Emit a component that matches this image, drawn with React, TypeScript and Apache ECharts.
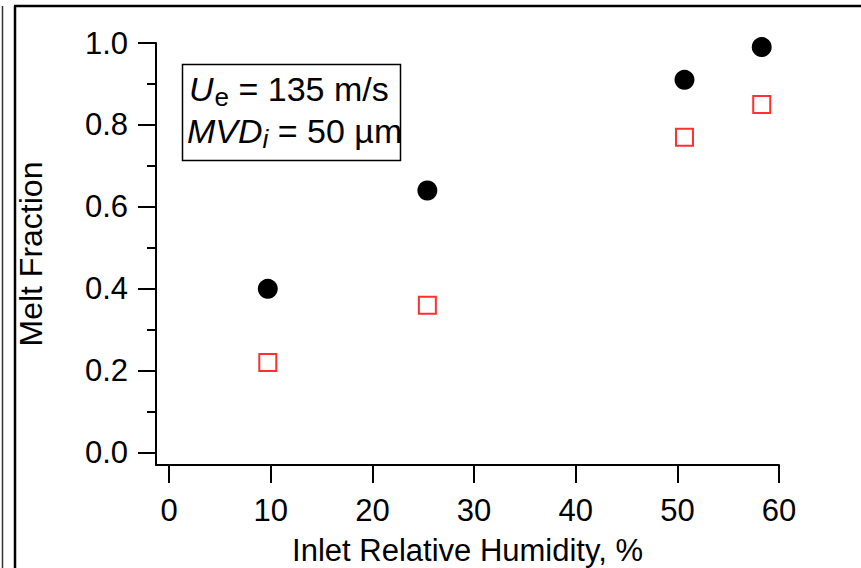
import React, { useEffect, useRef } from "react";
import * as echarts from "echarts";

const humidity = [9.7, 25.4, 50.7, 58.3];
const meltCircles = [0.4, 0.64, 0.91, 0.99];
const meltSquares = [0.22, 0.36, 0.77, 0.85];
const xTicks = [0, 10, 20, 30, 40, 50, 60];
const yMajorTicks = [0, 0.2, 0.4, 0.6, 0.8, 1.0];
const yMinorTicks = [0.1, 0.3, 0.5, 0.7, 0.9];

const FONT = "'Liberation Sans', Arial, sans-serif";

const MAIN = 34;
const SUB = 26;

function measure(text: string, size: number, italic: boolean) {
  const ctx = document.createElement("canvas").getContext("2d")!;
  ctx.font = `${italic ? "italic " : ""}${size}px 'Liberation Sans', Arial, sans-serif`;
  return ctx.measureText(text).width;
}

function annotationLine(
  sym: string,
  sub: string,
  rest: string,
  x: number,
  baseline: number,
  subItalic: boolean,
  gap: number
) {
  const midMain = baseline - 0.3465 * MAIN;
  const midSub = baseline + 5 - 0.3465 * SUB;
  const w1 = measure(sym, MAIN, true);
  const w2 = measure(sub, SUB, subItalic);
  return [
    {
      type: "text",
      x,
      y: midMain,
      style: { text: sym, fontSize: MAIN, fontStyle: "italic", fontFamily: FONT, fill: "#000", verticalAlign: "middle", align: "left" },
    },
    {
      type: "text",
      x: x + w1 + gap,
      y: midSub,
      style: { text: sub, fontSize: SUB, fontStyle: subItalic ? "italic" : "normal", fontFamily: FONT, fill: "#000", verticalAlign: "middle", align: "left" },
    },
    {
      type: "text",
      x: x + w1 + gap + w2,
      y: midMain,
      style: { text: rest, fontSize: MAIN, fontFamily: FONT, fill: "#000", verticalAlign: "middle", align: "left" },
    },
  ];
}

export default function App() {
  const ref = useRef<HTMLDivElement>(null);
  useEffect(() => {
    document.body.style.margin = "0";
    const chart = echarts.init(ref.current!, null, { renderer: "svg" });
    const axisLine = { show: true, onZero: false, lineStyle: { color: "#000", width: 2 } };
    chart.setOption({
      animation: false,
      backgroundColor: "#fff",
      textStyle: { fontFamily: FONT },
      grid: { left: 156, right: 82, top: 43, bottom: 103, containLabel: false, outerBoundsMode: "none" },
      xAxis: {
        type: "value",
        min: -1.3,
        max: 60,
        axisLine,
        splitLine: { show: false },
        axisTick: {
          show: true,
          customValues: xTicks,
          length: 18,
          inside: false,
          lineStyle: { color: "#000", width: 2 },
        },
        axisLabel: {
          customValues: xTicks,
          color: "#000",
          fontSize: 31,
          fontFamily: FONT,
          margin: 30,
        },
        name: "Inlet Relative Humidity, %",
        nameLocation: "middle",
        nameGap: 70,
        nameTextStyle: { color: "#000", fontSize: 31, fontFamily: FONT },
      },
      yAxis: [
        {
          type: "value",
          min: -0.03,
          max: 1.0,
          axisLine,
          splitLine: { show: false },
          axisTick: {
            show: true,
            customValues: yMajorTicks,
            length: 18,
            lineStyle: { color: "#000", width: 2 },
          },
          axisLabel: {
            customValues: yMajorTicks,
            formatter: (v: number) => v.toFixed(1),
            color: "#000",
            fontSize: 31,
            fontFamily: FONT,
            margin: 28,
          },
          name: "Melt Fraction",
          nameLocation: "middle",
          nameRotate: 90,
          nameGap: 109,
          nameTextStyle: { color: "#000", fontSize: 32, fontFamily: FONT },
        },
        {
          type: "value",
          min: -0.03,
          max: 1.0,
          position: "left",
          axisLine: { show: false, onZero: false },
          splitLine: { show: false },
          axisTick: {
            show: true,
            customValues: yMinorTicks,
            length: 9,
            lineStyle: { color: "#000", width: 2 },
          },
          axisLabel: { show: false },
        },
      ],
      series: [
        {
          name: "Circles",
          type: "scatter",
          symbol: "circle",
          symbolSize: 20,
          itemStyle: { color: "#000", opacity: 1 },
          data: humidity.map((x, i) => [x, meltCircles[i]]),
        },
        {
          name: "Squares",
          type: "scatter",
          symbol: "rect",
          symbolSize: 17,
          itemStyle: { color: "rgba(255,255,255,0)", borderColor: "#ff3030", borderWidth: 2, opacity: 1 },
          data: humidity.map((x, i) => [x, meltSquares[i]]),
        },
      ],
      graphic: [
        { type: "line", shape: { x1: 2.5, y1: 6, x2: 2.5, y2: 568 }, style: { stroke: "#333", lineWidth: 1.5 } },
        { type: "line", shape: { x1: 15, y1: 6, x2: 15, y2: 568 }, style: { stroke: "#000", lineWidth: 2.5 } },
        { type: "line", shape: { x1: 14, y1: 6, x2: 861, y2: 6 }, style: { stroke: "#000", lineWidth: 2.5 } },
        {
          type: "rect",
          shape: { x: 182.5, y: 64.5, width: 218, height: 96 },
          style: { fill: "#fff", stroke: "#000", lineWidth: 1.5 },
        },
        ...annotationLine("U", "e", " = 135 m/s", 189, 101, false, 1),
        ...annotationLine("MVD", "i", " = 50 µm", 187, 143, true, 0),
      ],
    });
    return () => chart.dispose();
  }, []);
  return <div ref={ref} style={{ width: 861, height: 568 }} />;
}
